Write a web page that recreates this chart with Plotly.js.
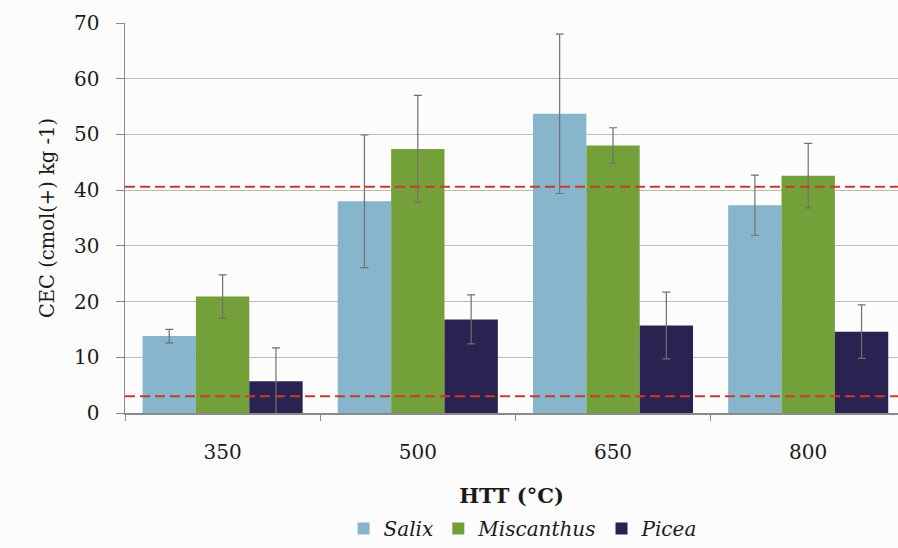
<!DOCTYPE html>
<html>
<head>
<meta charset="utf-8">
<script src="https://cdn.plot.ly/plotly-3.0.1.min.js"></script>
<style>html,body{margin:0;padding:0;background:#fcfcfc;}#chart{width:898px;height:548px;}</style>
</head>
<body>
<div id="chart"></div>
<script>
const categories = ["350", "500", "650", "800"];
const seriesNames = ["Salix", "Miscanthus", "Picea"];
const salix = [13.8, 38.0, 53.7, 37.3];
const salixErr = [1.2, 11.9, 14.3, 5.4];
const miscanthus = [20.9, 47.4, 48.0, 42.6];
const miscanthusErr = [3.9, 9.6, 3.2, 5.8];
const picea = [5.7, 16.8, 15.7, 14.6];
const piceaErr = [6.0, 4.4, 6.0, 4.8];
const refLines = [40.6, 3.0];
const colors = ["#87b5cb", "#74a03a", "#2a2250"];

const font = "DejaVu Serif, serif";
const txt = "#1a1a1a";
const vals = [salix, miscanthus, picea];
const errs = [salixErr, miscanthusErr, piceaErr];

const traces = seriesNames.map((n, i) => ({
  type: "bar",
  name: n,
  x: categories,
  y: vals[i],
  marker: {color: colors[i]},
  error_y: {type: "data", array: errs[i], visible: true, color: "#707070", thickness: 1.2, width: 4}
}));

const shapes = refLines.map(v => ({
  type: "line", xref: "paper", yref: "y", x0: 0, x1: 1, y0: v, y1: v,
  line: {color: "#cc3a2e", width: 2, dash: "10px,5px"}, layer: "above"
}));

const layout = {
  width: 898, height: 548,
  margin: {l: 125, r: 0, t: 23, b: 133},
  paper_bgcolor: "#fcfcfc", plot_bgcolor: "#fcfcfc",
  barmode: "group", bargap: 0.18, bargroupgap: 0,
  font: {family: font, size: 20, color: txt},
  showlegend: true,
  legend: {orientation: "h", x: 0.515, xanchor: "center", y: -0.296, yanchor: "middle",
    font: {family: font, size: 20, color: txt, style: "italic"}, itemwidth: 30, tracegroupgap: 0,
    bgcolor: "rgba(0,0,0,0)"},
  xaxis: {
    type: "category", range: [-0.5, 3.46], fixedrange: true, automargin: false,
    showline: true, linecolor: "#8a8a8a", linewidth: 1.5,
    ticks: "outside", tickson: "boundaries", ticklen: 6, tickcolor: "#8a8a8a",
    ticklabelstandoff: 20,
    tickfont: {family: font, size: 20, color: txt},
    showgrid: false,
    title: {text: "<b>HTT (°C)</b>", font: {family: font, size: 21, color: txt}, standoff: 26}
  },
  yaxis: {
    range: [0, 70], dtick: 10, fixedrange: true, automargin: false,
    showline: true, linecolor: "#8a8a8a", linewidth: 1.5,
    ticks: "outside", ticklen: 8, tickcolor: "#8a8a8a",
    ticklabelstandoff: 12,
    showgrid: true, gridcolor: "#bdbdbd", gridwidth: 1,
    zeroline: false,
    tickfont: {family: font, size: 20, color: txt},
    title: {text: "CEC (cmol(+) kg -1)", font: {family: font, size: 19.5, color: txt}, standoff: 14}
  },
  shapes: shapes
};

Plotly.newPlot("chart", traces, layout, {displayModeBar: false, staticPlot: true});
</script>
</body>
</html>
